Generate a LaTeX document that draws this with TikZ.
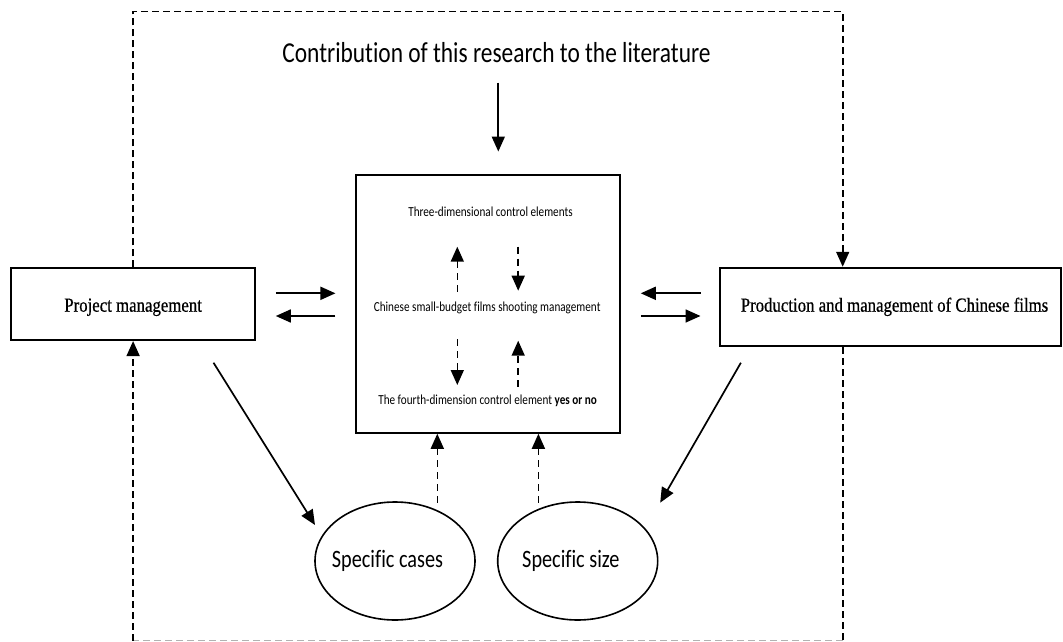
\documentclass[tikz,border=0pt]{standalone}
\usepackage{fontspec}
\usetikzlibrary{arrows.meta,shapes.geometric}
\newfontfamily\labelsans[FakeStretch=0.81,Ligatures=NoCommon]{Carlito}
\newfontfamily\labelserif[FakeStretch=0.84,FakeBold=0.6]{Liberation Serif}
\begin{document}
\begin{tikzpicture}[x=1pt,y=-1pt,
  boxnode/.style={draw, rectangle, line width=2pt, inner sep=0pt},
  ovalnode/.style={draw, ellipse, line width=1.6pt, inner sep=0pt,
    minimum width=160pt, minimum height=118pt,
    font=\labelsans\fontsize{25}{28}\selectfont},
  serifbig/.style={font=\labelserif\fontsize{20}{24}\selectfont},
  smalltext/.style={font=\labelsans\fontsize{13.8}{16}\selectfont, inner sep=0pt, anchor=base},
  tip/.style={-{Triangle[length=15pt,width=13pt]}},
  solidarr/.style={line width=1.7pt, tip},
  dasharr/.style={line width=1.6pt, dash pattern=on 7pt off 5pt, tip},
  loopline/.style={line width=1.6pt, dash pattern=on 7pt off 4pt}]
\useasboundingbox (0,0) rectangle (1063,642);

% title
\node[font=\labelsans\fontsize{28.9}{32}\selectfont, anchor=base, inner sep=0pt]
  (title) at (496.5,63) {Contribution of this research to the literature};

% side boxes and central box
\node[boxnode, serifbig, minimum width=243.4pt, minimum height=71.7pt,
  text height=16pt, text depth=1pt] (pm) at (133.1,304.2) {Project management};
\node[boxnode, serifbig, minimum width=341pt, minimum height=78.3pt,
  text height=13pt, text depth=3.4pt] (prod) at (890.5,306.9)
  {\hspace*{8pt}Production and management of Chinese films};
\node[boxnode, minimum width=263.8pt, minimum height=257.7pt] (mid) at (487.6,303.9) {};

% texts inside the central box
\node[smalltext] (three) at (490.5,216.5) {Three-dimensional control elements};
\node[smalltext] (chinese) at (487.2,311.3) {Chinese small-budget films shooting management};
\node[smalltext] (fourth) at (487.6,404) {The fourth-dimension control element \textbf{yes or no}};

% ellipses
\node[ovalnode] (cases) at (395,561) {\hspace*{-15pt}Specific cases};
\node[ovalnode] (size) at (577.7,561) {\hspace*{-13.6pt}Specific size};

% helper coordinates
\coordinate (tA) at (498.3,82.7);
\coordinate (rowA) at (0,293.3);
\coordinate (rowB) at (0,316);
\coordinate (topY) at (0,11.7);
\coordinate (botY) at (0,640.5);
\coordinate (rightX) at (842.7,0);
\coordinate (ua) at (457.3,291.7);
\coordinate (ub) at (457.3,246.7);
\coordinate (uc) at (518.2,246.7);
\coordinate (ud) at (518.2,290.7);
\coordinate (la) at (457.3,339.3);
\coordinate (lb) at (457.3,385);
\coordinate (lc) at (518.2,386.7);
\coordinate (ld) at (518.2,340.7);
\coordinate (e1) at (437.3,502.7);
\coordinate (e2) at (538.4,502.7);
\coordinate (d1a) at (213.5,362.7);
\coordinate (d1b) at (315,525);
\coordinate (d2a) at (740.9,362.7);
\coordinate (d2b) at (660.2,502.7);

% title arrow
\draw[solidarr, shorten >=22.5pt] (tA) -- (tA |- mid.north);

% paired arrows between the boxes
\draw[solidarr, shorten <=20pt, shorten >=19.25pt] (pm.east |- rowA) -- (mid.west |- rowA);
\draw[solidarr, shorten <=19.25pt, shorten >=20pt] (mid.west |- rowB) -- (pm.east |- rowB);
\draw[solidarr, shorten <=18.5pt, shorten >=20.25pt] (prod.west |- rowA) -- (mid.east |- rowA);
\draw[solidarr, shorten <=20.25pt, shorten >=18.5pt] (mid.east |- rowB) -- (prod.west |- rowB);

% dashed arrows inside the central box
\draw[dasharr] (ua) -- (ub);
\draw[dasharr] (uc) -- (ud);
\draw[dasharr] (la) -- (lb);
\draw[dasharr] (lc) -- (ld);

% ellipses feeding the central box
\draw[dasharr] (e1) -- (e1 |- mid.south);
\draw[dasharr] (e2) -- (e2 |- mid.south);

% diagonal arrows to the ellipses
\draw[solidarr] (d1a) -- (d1b);
\draw[solidarr] (d2a) -- (d2b);

% outer dashed loop
\draw[loopline, tip] (pm.north) -- (pm.north |- topY) -- (rightX |- topY) -- (rightX |- prod.north);
\draw[loopline] (rightX |- prod.south) -- (rightX |- botY);
\draw[loopline, gray!60] (rightX |- botY) -- (pm.south |- botY);
\draw[loopline, tip] (pm.south |- botY) -- (pm.south);
\end{tikzpicture}
\end{document}
